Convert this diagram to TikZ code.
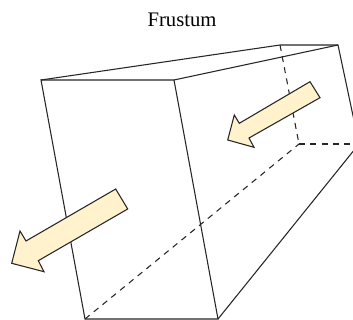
\documentclass[tikz,border=0pt]{standalone}
\usepackage{fontspec}
\setmainfont{Liberation Serif}
\definecolor{arrowfill}{HTML}{FFF2CC}

\begin{document}
\begin{tikzpicture}[
    x=0.75pt, y=-0.75pt,
    edge/.style={line width=0.8pt, black!85},
    hidden/.style={line width=0.8pt, black!85, dash pattern=on 4.5pt off 4pt},
    flow/.style={draw=black!85, fill=arrowfill, line width=0.8pt, line join=miter},
    title/.style={font=\fontsize{15.5pt}{18pt}\selectfont, inner sep=0pt}
]
    \useasboundingbox (0, 0) rectangle (353, 320);
    % near face
    \coordinate (nw) at (41, 80);
    \coordinate (ne) at (174, 80);
    \coordinate (se) at (218, 319);
    \coordinate (sw) at (85, 319);
    % far face, its lower right corner lies past the edge of the page
    \coordinate (fnw) at (280, 45);
    \coordinate (fne) at (338, 45);
    \coordinate (fse) at (359, 144);
    \coordinate (fsw) at (299, 144);

    \node[title] (frustum) at (182, 20) {Frustum};

    \draw[edge] (nw) -- (ne) -- (se) -- (sw) -- cycle;
    \draw[edge] (nw) -- (fnw) -- (fne) -- (fse);
    \draw[edge] (ne) -- (fne);
    \draw[edge] (se) -- (fse);
    \draw[hidden] (fnw) -- (fsw);
    \draw[hidden] (fsw) -- (fse);
    \draw[hidden] (sw) -- (fsw);

    % view direction
    \draw[flow] (310, 81.7) -- (320, 97.7) -- (249, 138) -- (254, 147.3)
        -- (227.7, 140) -- (234.3, 115) -- (239.3, 123.3) -- cycle;
    \draw[flow] (115.7, 189) -- (127.7, 209) -- (38.3, 260.7) -- (44, 271.7)
        -- (11.7, 263.3) -- (20, 231) -- (26, 241) -- cycle;
\end{tikzpicture}
\end{document}
